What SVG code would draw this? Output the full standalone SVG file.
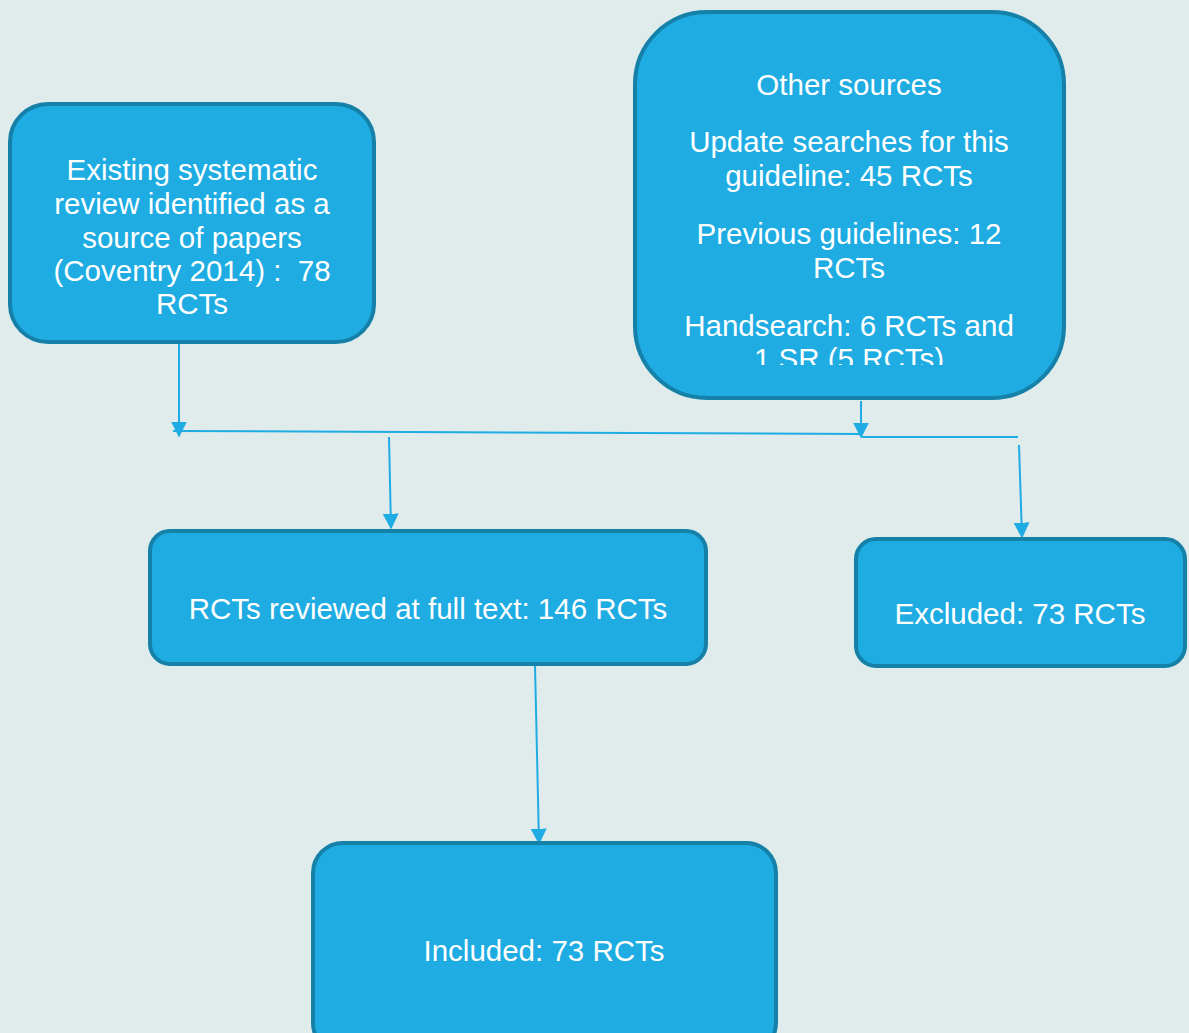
<svg xmlns="http://www.w3.org/2000/svg" width="1189" height="1033" viewBox="0 0 1189 1033">
<style>
.box{fill:#1EACE2;stroke:#1580A8;stroke-width:4}
.t{font-family:"Liberation Sans",Arial,Helvetica,sans-serif;font-size:29.5px;fill:#FFFFFF;text-anchor:middle}
.c{stroke:#1EACE2;stroke-width:2;fill:none}
</style>
<defs>
<marker id="ah" viewBox="0 0 10 10" refX="9" refY="5" markerWidth="16" markerHeight="16" markerUnits="userSpaceOnUse" orient="auto">
<path d="M0,0 L10,5 L0,10 z" fill="#1EACE2"/>
</marker>
<clipPath id="clipOther"><rect x="634" y="11" width="430" height="354"/></clipPath>
</defs>
<rect x="0" y="0" width="1189" height="1033" fill="#E0ECEC"/>
<g id="connectors">
<line class="c" x1="179" y1="343" x2="179" y2="436" marker-end="url(#ah)"/>
<line class="c" x1="173" y1="431" x2="862" y2="434"/>
<line class="c" x1="862" y1="437" x2="1018" y2="437"/>
<line class="c" x1="861" y1="401" x2="861" y2="437" marker-end="url(#ah)"/>
<line class="c" x1="389" y1="437" x2="391" y2="528" marker-end="url(#ah)"/>
<line class="c" x1="1019" y1="445" x2="1022" y2="537" marker-end="url(#ah)"/>
<line class="c" x1="535" y1="665" x2="539" y2="843" marker-end="url(#ah)"/>
</g>
<g id="node-existing">
<rect class="box" x="10" y="104" width="364" height="238" rx="38"/>
<text class="t" x="192" y="180">Existing systematic</text>
<text class="t" x="192" y="214">review identified as a</text>
<text class="t" x="192" y="248">source of papers</text>
<text class="t" x="192" y="281" xml:space="preserve">(Coventry 2014) :  78</text>
<text class="t" x="192" y="314">RCTs</text>
</g>
<g id="node-other">
<rect class="box" x="635" y="12" width="429" height="386" rx="72"/>
<g clip-path="url(#clipOther)">
<text class="t" x="849" y="95">Other sources</text>
<text class="t" x="849" y="152">Update searches for this</text>
<text class="t" x="849" y="186">guideline: 45 RCTs</text>
<text class="t" x="849" y="244">Previous guidelines: 12</text>
<text class="t" x="849" y="278">RCTs</text>
<text class="t" x="849" y="336">Handsearch: 6 RCTs and</text>
<text class="t" x="849" y="369">1 SR (5 RCTs)</text>
</g>
</g>
<g id="node-reviewed">
<rect class="box" x="150" y="531" width="556" height="133" rx="20"/>
<text class="t" x="428" y="619">RCTs reviewed at full text: 146 RCTs</text>
</g>
<g id="node-excluded">
<rect class="box" x="856" y="539" width="329" height="127" rx="20"/>
<text class="t" x="1020" y="624">Excluded: 73 RCTs</text>
</g>
<g id="node-included">
<rect class="box" x="313" y="843" width="463" height="210" rx="30"/>
<text class="t" x="544" y="961">Included: 73 RCTs</text>
</g>
</svg>
